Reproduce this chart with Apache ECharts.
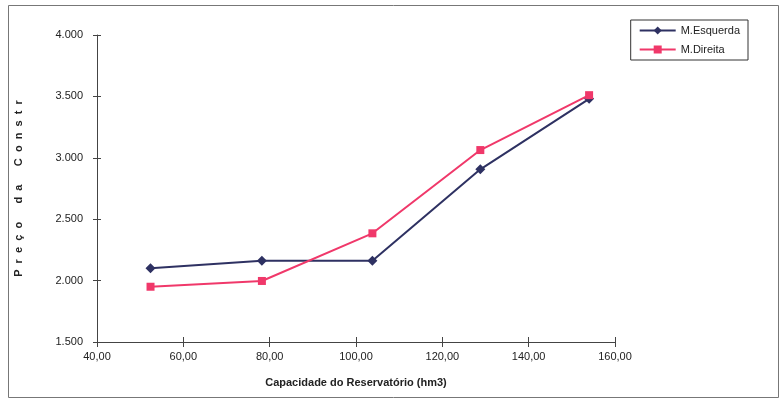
<!DOCTYPE html>
<html>
<head>
<meta charset="utf-8">
<script src="https://cdn.jsdelivr.net/npm/echarts@6/dist/echarts.min.js"></script>
<style>
  html, body { margin: 0; padding: 0; background: #fff; }
  #chart { width: 784px; height: 401px; }
</style>
</head>
<body>
<div id="chart"></div>
<script>
// Reservoir capacity (hm3) and construction price for each margin
const capacidade = [52.4, 78.2, 103.8, 128.8, 154.0];
const margemEsquerda = [2100, 2162, 2162, 2906, 3480];
const margemDireita = [1950, 1997, 2385, 3063, 3510];
const seriesNames = ['M.Esquerda', 'M.Direita'];

const pairs = (xs, ys) => xs.map((x, i) => [x, ys[i]]);

// letter-spaced axis title
const spaced = s => s.split(' ').map(w => w.split('').join('  ')).join('      ');

const fontFamily = 'Liberation Sans, Arial, sans-serif';
const axisColor = '#444';
const chart = echarts.init(document.getElementById('chart'), null, { renderer: 'canvas' });

// shared scale settings so the tick-only axes line up with the labelled ones
const xScale = { type: 'value', min: 40, max: 160, interval: 20 };
const yScale = { type: 'value', min: 1500, max: 4000, interval: 500 };

chart.setOption({
  backgroundColor: '#ffffff',
  animation: false,
  grid: { left: 97, top: 35, width: 518, height: 307, containLabel: false },
  legend: {
    right: 36, top: 20,
    orient: 'vertical',
    itemGap: 8,
    itemWidth: 36, itemHeight: 10,
    padding: [5, 8, 5, 8],
    borderColor: '#333', borderWidth: 1,
    textStyle: { fontFamily, fontSize: 11, color: '#222' },
    data: seriesNames
  },
  xAxis: [
    Object.assign({}, xScale, {
      name: 'Capacidade do Reservatório (hm3)',
      nameLocation: 'middle', nameGap: 35,
      nameTextStyle: { fontFamily, fontSize: 11, fontWeight: 'bold', color: '#222' },
      axisLine: { show: true, lineStyle: { color: axisColor, width: 1 } },
      axisTick: { show: true, length: 5, lineStyle: { color: axisColor } },
      axisLabel: {
        fontFamily, fontSize: 11, color: '#222', margin: 9,
        formatter: v => v.toFixed(2).replace('.', ',')
      },
      splitLine: { show: false }
    }),
    // inner half of the crossing tick marks
    Object.assign({}, xScale, {
      position: 'bottom',
      axisLine: { show: false },
      axisTick: { show: true, inside: true, length: 5, lineStyle: { color: axisColor } },
      axisLabel: { show: false },
      splitLine: { show: false }
    })
  ],
  yAxis: [
    Object.assign({}, yScale, {
      name: spaced('Preço da Constr'),
      nameLocation: 'middle', nameGap: 73, nameRotate: 90,
      nameTextStyle: { fontFamily, fontSize: 11, fontWeight: 'bold', color: '#222' },
      axisLine: { show: true, lineStyle: { color: axisColor, width: 1 } },
      axisTick: { show: true, length: 4, lineStyle: { color: axisColor } },
      axisLabel: {
        fontFamily, fontSize: 11, color: '#222', margin: 14,
        formatter: v => v.toLocaleString('de-DE')
      },
      splitLine: { show: false }
    }),
    Object.assign({}, yScale, {
      position: 'left',
      axisLine: { show: false },
      axisTick: { show: true, inside: true, length: 4, lineStyle: { color: axisColor } },
      axisLabel: { show: false },
      splitLine: { show: false }
    })
  ],
  series: [
    {
      name: seriesNames[0], type: 'line',
      data: pairs(capacidade, margemEsquerda),
      symbol: 'diamond', symbolSize: 10,
      lineStyle: { color: '#2e3162', width: 2 },
      itemStyle: { color: '#2e3162' }
    },
    {
      name: seriesNames[1], type: 'line',
      data: pairs(capacidade, margemDireita),
      symbol: 'rect', symbolSize: 8,
      lineStyle: { color: '#f0386a', width: 2 },
      itemStyle: { color: '#f0386a' }
    }
  ],
  graphic: [
    {
      type: 'rect', z: -1,
      shape: { x: 8.5, y: 5.5, width: 770, height: 392 },
      style: { fill: 'none', stroke: '#777', lineWidth: 1 }
    }
  ]
});
</script>
</body>
</html>
